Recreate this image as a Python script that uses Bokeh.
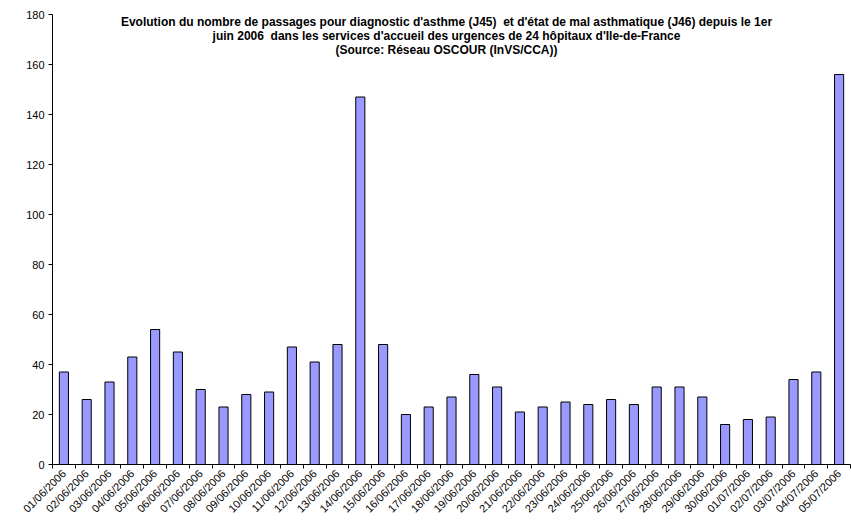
import math
from bokeh.plotting import figure
from bokeh.models import FixedTicker, Range1d, Label, ColumnDataSource
from bokeh.embed import file_html
from bokeh.resources import INLINE

dates = ["01/06/2006", "02/06/2006", "03/06/2006", "04/06/2006", "05/06/2006",
         "06/06/2006", "07/06/2006", "08/06/2006", "09/06/2006", "10/06/2006",
         "11/06/2006", "12/06/2006", "13/06/2006", "14/06/2006", "15/06/2006",
         "16/06/2006", "17/06/2006", "18/06/2006", "19/06/2006", "20/06/2006",
         "21/06/2006", "22/06/2006", "23/06/2006", "24/06/2006", "25/06/2006",
         "26/06/2006", "27/06/2006", "28/06/2006", "29/06/2006", "30/06/2006",
         "01/07/2006", "02/07/2006", "03/07/2006", "04/07/2006", "05/07/2006"]
passages = [37, 26, 33, 43, 54, 45, 30, 23, 28, 29, 47, 41, 48, 147, 48,
            20, 23, 27, 36, 31, 21, 23, 25, 24, 26, 24, 31, 31, 27, 16,
            18, 19, 34, 37, 156]
y_ticks = [0, 20, 40, 60, 80, 100, 120, 140, 160, 180]
title_lines = [
    "Evolution du nombre de passages pour diagnostic d'asthme (J45)\u00a0 et d'état de mal asthmatique (J46) depuis le 1er",
    "juin 2006\u00a0 dans les services d'accueil des urgences de 24 hôpitaux d'Ile-de-France",
    "(Source: Réseau OSCOUR (InVS/CCA))",
]

n = len(dates)
xs = list(range(1, n + 1))
src = ColumnDataSource(dict(x=xs, top=passages))

p = figure(width=851, height=530, output_backend="svg", toolbar_location=None,
           x_range=Range1d(0.5, n + 0.5), y_range=Range1d(0, 180),
           min_border_left=52, min_border_right=1, min_border_top=14,
           min_border_bottom=66)
p.outline_line_color = None
p.xgrid.grid_line_color = None
p.ygrid.grid_line_color = None
p.background_fill_color = "white"
p.border_fill_color = "white"

p.vbar(x="x", top="top", width=0.4, bottom=0, source=src,
       fill_color="#9999FF", line_color="black", line_width=1)

font = "Liberation Sans"

xa = p.xaxis[0]
xa.ticker = FixedTicker(ticks=xs, minor_ticks=[i + 0.5 for i in range(0, n + 1)])
xa.major_label_overrides = {i + 1: d for i, d in enumerate(dates)}
xa.major_label_orientation = math.pi / 4
xa.major_tick_in = 0
xa.major_tick_out = 0
xa.minor_tick_in = 0
xa.minor_tick_out = 4
xa.minor_tick_line_color = "black"
xa.axis_line_color = "black"
xa.major_label_text_font = font
xa.major_label_text_font_size = "11px"
xa.major_label_text_color = "black"
xa.major_label_standoff = 3

ya = p.yaxis[0]
ya.ticker = FixedTicker(ticks=y_ticks)
ya.major_tick_in = 0
ya.major_tick_out = 4
ya.minor_tick_line_color = None
ya.axis_line_color = "black"
ya.major_tick_line_color = "black"
ya.major_label_text_font = font
ya.major_label_text_font_size = "11px"
ya.major_label_text_color = "black"
ya.major_label_standoff = 4

for i, line in enumerate(title_lines):
    p.add_layout(Label(x=446 - 52, y=443 - i * 14,
                       x_units="screen", y_units="screen", text=line,
                       text_align="center", text_baseline="alphabetic",
                       text_font=font, text_font_style="bold",
                       text_font_size="12px", text_color="black"))

open("out.html", "w").write(file_html(p, INLINE))
